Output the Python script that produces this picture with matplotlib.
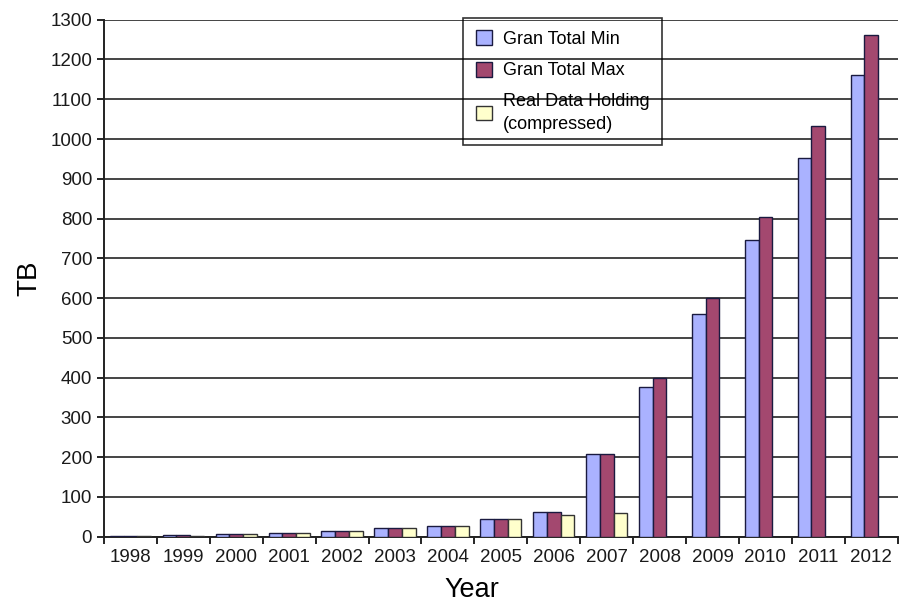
import numpy as np
import matplotlib
matplotlib.use('Agg')
import matplotlib.pyplot as plt

years = ['1998', '1999', '2000', '2001', '2002', '2003', '2004', '2005',
         '2006', '2007', '2008', '2009', '2010', '2011', '2012']
gran_min = [1, 3, 6, 10, 15, 21, 27, 44, 62, 208, 377, 559, 746, 953, 1161]
gran_max = [1, 3, 6, 10, 15, 21, 27, 44, 62, 208, 399, 600, 803, 1033, 1262]
real_holding = [0.5, 2, 6, 10, 15, 21, 27, 44, 55, 59]

plt.rcParams['font.family'] = ['Liberation Sans', 'DejaVu Sans']

fig = plt.figure(figsize=(8.99, 6.08), dpi=100)
ax = fig.add_axes([0.1157, 0.1173, 0.8828, 0.8503])

x = np.arange(len(years))
w = 0.26
edge = '#1a1a40'
ax.bar(x - w, gran_min, w, color='#aab2ff', edgecolor=edge, linewidth=1, zorder=3,
       label='Gran Total Min')
ax.bar(x, gran_max, w, color='#a3486f', edgecolor=edge, linewidth=1, zorder=3,
       label='Gran Total Max')
ax.bar(x[:len(real_holding)] + w, real_holding, w, color='#ffffcc', edgecolor='#333333',
       linewidth=1, zorder=3, label='Real Data Holding\n(compressed)')

ax.set_xlim(-0.5, len(years) - 0.5)
ax.set_ylim(0, 1300)
ax.set_yticks(range(0, 1301, 100))
# category boundaries get the tick marks, labels sit in between
ax.set_xticks(np.arange(len(years) + 1) - 0.5)
ax.set_xticklabels([''] * (len(years) + 1))
ax.set_xticks(x, minor=True)
ax.set_xticklabels(years, minor=True)
ax.tick_params(axis='x', which='minor', length=0, labelsize=13.5, pad=9,
               labelcolor='#1a1a1a')
ax.tick_params(axis='x', which='major', length=5, width=1.2, direction='out')
ax.tick_params(axis='y', length=5, width=1.2, labelsize=13.5, direction='out',
               labelcolor='#1a1a1a')

ax.yaxis.grid(True, color='#444444', linewidth=1.4, zorder=0)
ax.set_axisbelow(True)
for s in ['top', 'right']:
    ax.spines[s].set_visible(False)
for s in ['left', 'bottom']:
    ax.spines[s].set_linewidth(1.4)
    ax.spines[s].set_color('#222222')

ax.set_ylabel('TB', fontsize=20, labelpad=6)
ax.set_xlabel('Year', fontsize=19.5, labelpad=8)
ax.xaxis.label.set_x(0.463)

leg = ax.legend(loc='upper left', bbox_to_anchor=(0.515, 0.971),
                bbox_transform=fig.transFigure, fontsize=13, frameon=True,
                fancybox=False, edgecolor='black',
                handlelength=0.9, handleheight=0.9, handletextpad=0.6,
                labelspacing=0.75, borderpad=0.7, borderaxespad=0)
leg.get_frame().set_facecolor('none')
leg.get_frame().set_linewidth(1.2)
leg.get_texts()[2].set_linespacing(1.45)

fig.savefig('out.png', dpi=100)
